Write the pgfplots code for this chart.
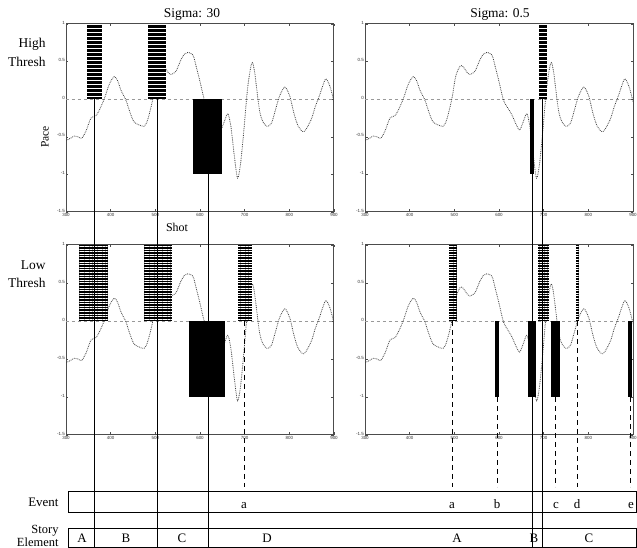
\documentclass[border=0pt]{standalone}
\usepackage{fontspec}
\setmainfont{Liberation Serif}
\newfontfamily\tickfont{Liberation Sans}
\usepackage{pgfplots}
\usepackage{pgfplotstable}
\pgfplotsset{compat=1.18}
\usetikzlibrary{patterns.meta}

\pgfplotstableread{
x y
300 -0.55
310 -0.52
319 -0.49
327 -0.50
335 -0.52
345 -0.42
356 -0.25
367 -0.22
375 -0.14
386 0.01
397 0.20
408 0.30
416 0.24
423 0.12
434 -0.01
443 -0.17
452 -0.30
463 -0.34
475 -0.36
483 -0.27
494 -0.01
503 0.30
513 0.44
520 0.43
528 0.36
535 0.33
546 0.37
557 0.52
565 0.60
572 0.62
584 0.59
592 0.42
599 0.26
610 -0.01
620 -0.12
629 -0.21
638 -0.33
646 -0.41
653 -0.32
662 -0.19
668 -0.32
672 -0.50
677 -0.76
684 -1.05
690 -0.89
695 -0.62
699 -0.36
707 0.17
716 0.48
722 0.37
733 -0.14
741 -0.30
750 -0.36
760 -0.32
770 -0.12
778 0.04
790 0.16
801 0.04
810 -0.18
820 -0.36
833 -0.43
849 -0.27
858 -0.10
867 0.04
875 0.18
882 0.27
891 0.17
900 -0.03
}\pacedata

\pgfplotsset{
  panel/.style={
    scale only axis, width=268bp, height=188bp, anchor=south west,
    xmin=300, xmax=900, ymin=-1.5, ymax=1,
    xtick={300,400,...,900}, ytick={-1.5,-1,-0.5,0,0.5,1},
    tick label style={font=\tickfont\fontsize{4.5}{5}\selectfont, inner sep=1bp, text=black!80},
    yticklabel style={yshift=1.5bp},
    xticklabel style={yshift=-0.5bp},
    /pgf/number format/assume math mode=true,
    major tick length=2.5bp,
    tick style={black!70, line width=0.5bp},
    axis line style={black!70, line width=1bp},
  },
  curve/.style={black!75, densely dotted, line width=0.8bp, smooth, no marks},
  zero/.style={black!40, dashed, line width=0.6bp, no marks},
  posbar/.style={fill=black, draw=none, no marks,
    postaction={pattern={Lines[angle=0,distance=#1,line width=0.7bp]}, pattern color=white}},
  negbar/.style={fill=black, draw=none, no marks},
}

\begin{document}
\begin{tikzpicture}
\path[use as bounding box] (0,0) rectangle (637bp,548bp);
\coordinate (B) at (0,0);
\coordinate (E) at (0,61bp);

% top-left
\begin{axis}[panel, at={(66bp,336bp)}]
\addplot[zero] coordinates {(300,0) (900,0)};
\addplot[curve] table {\pacedata};
\addplot[posbar=4bp] coordinates {(347,0) (347,1) (381,1) (381,0)} -- cycle;
\addplot[posbar=4bp] coordinates {(484,0) (484,1) (524,1) (524,0)} -- cycle;
\addplot[negbar] coordinates {(585,0) (585,-1) (649,-1) (649,0)} -- cycle;
\coordinate (v1) at (axis cs:363,0);
\coordinate (v2) at (axis cs:504,0);
\coordinate (v3) at (axis cs:618,-1);
\end{axis}

% top-right
\begin{axis}[panel, at={(365bp,336bp)}]
\addplot[zero] coordinates {(300,0) (900,0)};
\addplot[curve] table {\pacedata};
\addplot[posbar=4bp] coordinates {(690,0) (690,1) (707,1) (707,0)} -- cycle;
\addplot[negbar] coordinates {(669,0) (669,-1) (678,-1) (678,0)} -- cycle;
\coordinate (v4) at (axis cs:674,-1);
\coordinate (v5) at (axis cs:697,0);
\end{axis}

% bottom-left
\begin{axis}[panel, at={(66bp,113bp)}, height=190bp]
\addplot[zero] coordinates {(300,0) (900,0)};
\addplot[curve] table {\pacedata};
\addplot[posbar=2.6bp] coordinates {(328,0) (328,1) (393,1) (393,0)} -- cycle;
\addplot[posbar=2.6bp] coordinates {(475,0) (475,1) (537,1) (537,0)} -- cycle;
\addplot[posbar=2.6bp] coordinates {(684,0) (684,1) (716,1) (716,0)} -- cycle;
\addplot[negbar] coordinates {(575,0) (575,-1) (657,-1) (657,0)} -- cycle;
\coordinate (d1) at (axis cs:700,0);
\end{axis}

% bottom-right
\begin{axis}[panel, at={(365bp,113bp)}, height=190bp]
\addplot[zero] coordinates {(300,0) (900,0)};
\addplot[curve] table {\pacedata};
\addplot[posbar=2.6bp] coordinates {(487,0) (487,1) (505,1) (505,0)} -- cycle;
\addplot[posbar=2.6bp] coordinates {(687,0) (687,1) (713,1) (713,0)} -- cycle;
\addplot[posbar=2.6bp] coordinates {(772,0) (772,1) (780,1) (780,0)} -- cycle;
\addplot[negbar] coordinates {(592,0) (592,-1) (599,-1) (599,0)} -- cycle;
\addplot[negbar] coordinates {(664,0) (664,-1) (683,-1) (683,0)} -- cycle;
\addplot[negbar] coordinates {(716,0) (716,-1) (736,-1) (736,0)} -- cycle;
\addplot[negbar] coordinates {(889,0) (889,-1) (898,-1) (898,0)} -- cycle;
\coordinate (d2) at (axis cs:496,0);
\coordinate (d3) at (axis cs:595.5,-1);
\coordinate (d4) at (axis cs:726,-1);
\coordinate (d5) at (axis cs:776,0);
\coordinate (d6) at (axis cs:893.5,-1);
\end{axis}

\begin{scope}[x=1bp,y=1bp]
% labels
\begin{scope}[font=\fontsize{13.5}{15}\selectfont]
\node at (192,534) {Sigma: 30};
\node at (500,534) {Sigma: 0.5};
\node[anchor=east, align=right, font=\fontsize{13.5}{19}\selectfont] at (49,496) {High\\Thresh};
\node[anchor=east, align=right, font=\fontsize{13.5}{17.5}\selectfont] at (49,274) {Low\\Thresh};
\end{scope}
\node[rotate=90, font=\fontsize{11.5}{13}\selectfont] at (45,411) {Pace};
\node[font=\fontsize{12}{13}\selectfont] at (177,321) {Shot};

% bottom boxes
\draw[line width=0.6bp] (68,36) rectangle (636,57);
\draw[line width=0.6bp] (68,0.3) rectangle (636,20);
\node[anchor=east, font=\fontsize{13}{14}\selectfont] at (62,46) {Event};
\node[anchor=east, align=right, font=\fontsize{12.5}{12.5}\selectfont, inner ysep=0pt] at (62,12) {Story\\Element};

\begin{scope}[font=\fontsize{13}{14}\selectfont, anchor=base, inner sep=0pt]
\node at (244,40) {a};
\node at (452,40) {a};
\node at (497,40) {b};
\node at (556,40) {c};
\node at (577,40) {d};
\node at (631,40) {e};
\node at (82,5.5) {A};
\node at (126,5.5) {B};
\node at (182,5.5) {C};
\node at (267,5.5) {D};
\node at (457,5.5) {A};
\node at (534,5.5) {B};
\node at (589,5.5) {C};
\end{scope}
\end{scope}

% connecting lines
\foreach \v in {v1,v2,v3,v4,v5}
  \draw[line width=1bp] (\v) -- (\v |- B);
\foreach \d in {d1,d2,d3,d4,d5,d6}
  \draw[line width=0.9bp, dash pattern=on 5bp off 4bp] (\d) -- (\d |- E);
\end{tikzpicture}
\end{document}
